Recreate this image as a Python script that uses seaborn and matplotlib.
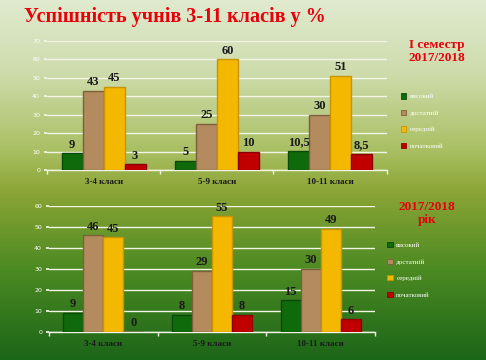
import numpy as np
import pandas as pd
import matplotlib
matplotlib.use("Agg")
import matplotlib.pyplot as plt
import seaborn as sns
from matplotlib.colors import LinearSegmentedColormap

categories = ["3-4 класи", "5-9 класи", "10-11 класи"]
levels = ["високий", "достатній", "середній", "початковий"]
sem_values = {
    "високий": [9, 5, 10.5],
    "достатній": [43, 25, 30],
    "середній": [45, 60, 51],
    "початковий": [3, 10, 8.5],
}
year_values = {
    "високий": [9, 8, 15],
    "достатній": [46, 29, 30],
    "середній": [45, 55, 49],
    "початковий": [0, 8, 6],
}
colors = ["#0f6a0c", "#b38b5e", "#f5b800", "#c00000"]
edges = ["#0a4a08", "#7d5f3c", "#c99400", "#8a0000"]

sns.set_theme(style="white")
plt.rcParams['font.family'] = ['DejaVu Sans']

fig = plt.figure(figsize=(4.86, 3.6), dpi=100)

# background gradient
bg = fig.add_axes([0, 0, 1, 1], zorder=-10)
cmap = LinearSegmentedColormap.from_list("bg", [
    (0.0, "#e0eacf"), (0.2, "#cedcac"), (0.42, "#a9bf62"), (0.53, "#8ca536"),
    (0.75, "#4c8a22"), (1.0, "#1c6619")])
grad = np.linspace(0, 1, 256).reshape(-1, 1)
bg.imshow(grad, aspect="auto", cmap=cmap, extent=[0, 1, 0, 1], origin="upper")
bg.axis("off")

def make_df(d):
    rows = []
    for lev in levels:
        for c, v in zip(categories, d[lev]):
            rows.append({"cat": c, "level": lev, "value": v})
    return pd.DataFrame(rows)

def fmt(v):
    s = f"{v:g}"
    return s.replace(".", ",")

def draw(rect, d, ymax, legend_anchor):
    ax = fig.add_axes(rect)
    ax.patch.set_alpha(0)
    df = make_df(d)
    sns.barplot(data=df, x="cat", y="value", hue="level", hue_order=levels,
                palette=colors, width=0.74, ax=ax, legend=True, saturation=1)
    for i, cont in enumerate(ax.containers):
        for p in cont:
            p.set_edgecolor(edges[i])
            p.set_linewidth(1.0)
            p.set_zorder(3)
        ax.bar_label(cont, labels=[fmt(v) for v in d[levels[i]]], padding=2,
                     fontsize=9, family="Liberation Serif", fontweight="bold",
                     color="#1a1a1a")
    ax.set_ylim(0, ymax)
    ax.set_yticks(np.arange(0, ymax + 1, 10))
    ax.yaxis.grid(True, color="#f2f5e6", linewidth=1.0, zorder=0)
    ax.set_axisbelow(True)
    ax.set_xlabel("")
    ax.set_ylabel("")
    for s in ["top", "right", "left"]:
        ax.spines[s].set_visible(False)
    ax.spines["bottom"].set_color("#f2f5e6")
    ax.spines["bottom"].set_linewidth(1.0)
    ax.tick_params(axis="y", labelsize=4.5, labelcolor="white", length=2,
                   color="#f2f5e6", pad=3, left=True)
    ax.tick_params(axis="x", labelsize=6.5, length=0, pad=6, labelcolor="#1a1a1a")
    for t in ax.get_xticklabels():
        t.set_family("Liberation Serif")
        t.set_fontweight("bold")
    # category boundary ticks
    ax.set_xticks([-0.5, 0.5, 1.5, 2.5], minor=True)
    ax.tick_params(axis="x", which="minor", length=3, color="#f2f5e6", bottom=True)
    ax.set_xlim(-0.5, 2.5)
    leg = ax.get_legend()
    handles = leg.legend_handles
    leg.remove()
    for h, e in zip(handles, edges):
        h.set_edgecolor(e)
        h.set_linewidth(0.6)
    fig.legend(handles, levels, loc="upper left", bbox_to_anchor=legend_anchor,
               frameon=False, labelcolor="white", handlelength=0.8,
               handleheight=0.8, labelspacing=1.5, handletextpad=0.5,
               prop={"family": "Liberation Serif", "size": 5})
    return ax

draw([0.0967, 0.528, 0.699, 0.358], sem_values, 70, (0.812, 0.758))
draw([0.1008, 0.078, 0.671, 0.35], year_values, 60, (0.784, 0.345))

fig.text(0.05, 0.952, "Успішність учнів 3-11 класів у %", color="#e8000b",
         fontsize=14.5, fontweight="bold", family="Liberation Serif", va="center", ha="left")
fig.text(0.899, 0.857, "І семестр\n2017/2018", color="#e8000b", fontsize=9.5,
         fontweight="bold", family="Liberation Serif", va="center", ha="center",
         linespacing=1.15)
fig.text(0.879, 0.407, "2017/2018\nрік", color="#e8000b", fontsize=9.5,
         fontweight="bold", family="Liberation Serif", va="center", ha="center",
         linespacing=1.15)

fig.savefig("out.png", dpi=100)
